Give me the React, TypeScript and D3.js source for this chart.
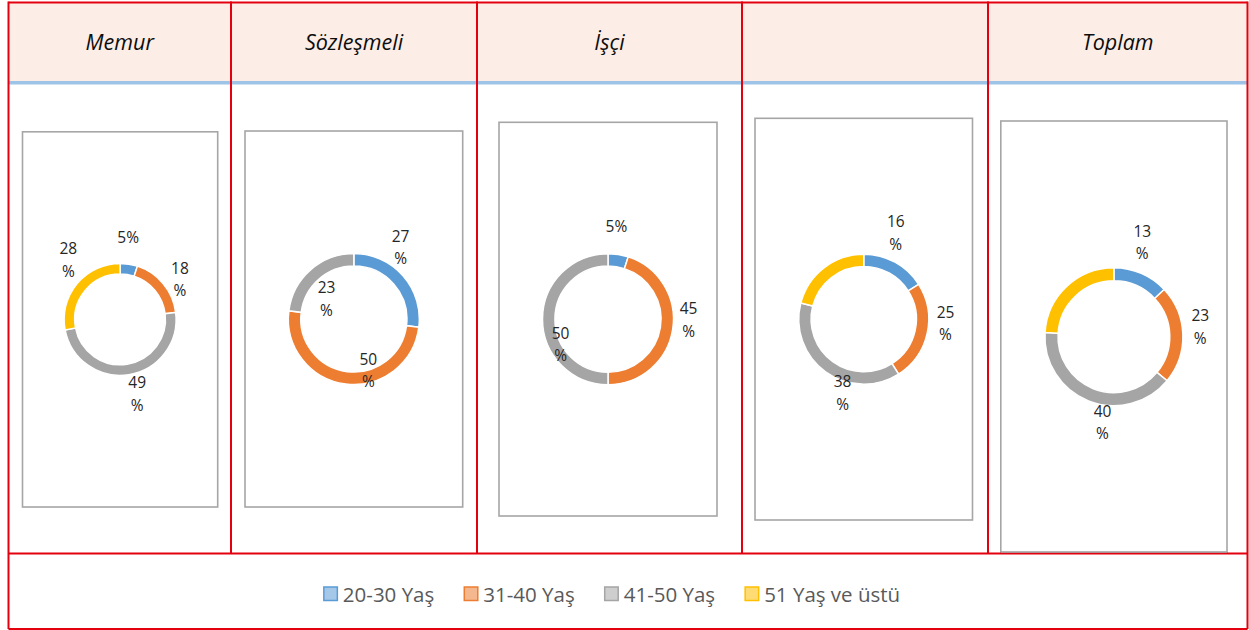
import React, { useEffect, useRef } from "react";
import * as d3 from "d3";

// ---- data ----
const columns = ["Memur", "Sözleşmeli", "İşçi", "", "Toplam"];
const ageGroups = ["20-30 Yaş", "31-40 Yaş", "41-50 Yaş", "51 Yaş ve üstü"];
const memur = [5, 18, 49, 28];
const sozlesmeli = [27, 50, 23, 0];
const isci = [5, 45, 50, 0];
const dorduncu = [16, 25, 38, 21];
const toplam = [13, 23, 40, 24];
const seriesByColumn = [memur, sozlesmeli, isci, dorduncu, toplam];

// ---- layout / style ----
const COLORS = ["#5B9BD5", "#ED7D31", "#A5A5A5", "#FFC000"];
const COL_EDGES = [8.5, 231, 477, 742, 988, 1247.5];
const BOXES = [
  [22.5, 131.8, 217.7, 507],
  [245, 131, 462.7, 507],
  [499, 122.3, 717, 516],
  [755, 118.3, 972.5, 520],
  [1000.8, 121, 1227, 552.5],
];
const RADII = [56, 65.5, 65.5, 65, 69];
// label placement: [angle shift (deg) from slice middle, radius factor], null = hidden
const LABEL_LAYOUT: (number[] | null)[][] = [
  [[-3.4, 1.47], [5.6, 1.29], [-4, 1.36], [9.4, 1.41]],
  [[-15.6, 1.31], [-23, 0.81], [-12, 0.52], null],
  [[-3.8, 1.42], [-8.6, 1.23], [-28, 0.82], null],
  [[-8.5, 1.42], [-9.6, 1.26], [-20, 1.18], null],
  [[-6.7, 1.43], [-4.8, 1.26], [-14, 1.25], null],
];
const FONT = "'Open Sans', 'Noto Sans', sans-serif";

export default function App() {
  const ref = useRef<SVGSVGElement>(null);

  useEffect(() => {
    document.body.style.margin = "0";
    const svg = d3.select(ref.current);
    svg.selectAll("*").remove();

    const headerTop = 2.5;
    const headerBottom = 81;
    const rowBottom = 553.5;
    const bottom = 629;

    // header background
    svg.append("rect")
      .attr("x", COL_EDGES[0]).attr("y", headerTop)
      .attr("width", COL_EDGES[5] - COL_EDGES[0]).attr("height", headerBottom - headerTop)
      .attr("fill", "#FCEEE6");
    // blue separator
    svg.append("line")
      .attr("x1", COL_EDGES[0]).attr("x2", COL_EDGES[5])
      .attr("y1", 82.7).attr("y2", 82.7)
      .attr("stroke", "#9DC3E6").attr("stroke-width", 3.5);

    // header labels
    columns.forEach((c, i) => {
      svg.append("text")
        .attr("x", (COL_EDGES[i] + COL_EDGES[i + 1]) / 2)
        .attr("y", 50)
        .attr("text-anchor", "middle")
        .attr("font-family", FONT)
        .attr("font-style", "italic")
        .attr("font-size", 21.5)
        .attr("fill", "#0d0d0d")
        .text(c);
    });

    const pie = d3.pie<number>().sort(null).value((d) => d);

    seriesByColumn.forEach((vals, ci) => {
      const [x0, y0, x1, y1] = BOXES[ci];
      svg.append("rect")
        .attr("x", x0).attr("y", y0)
        .attr("width", x1 - x0).attr("height", y1 - y0)
        .attr("fill", "white")
        .attr("stroke", "#A6A6A6").attr("stroke-width", 1.6);
      const cx = (x0 + x1) / 2;
      const cy = (y0 + y1) / 2;
      const r = RADII[ci];
      const arc = d3.arc<d3.PieArcDatum<number>>().innerRadius(r * 0.81).outerRadius(r);
      const g = svg.append("g").attr("transform", `translate(${cx},${cy})`);
      const arcs = pie(vals);
      g.selectAll("path")
        .data(arcs.filter((a) => a.value > 0))
        .join("path")
        .attr("d", arc)
        .attr("fill", (d) => COLORS[d.index])
        .attr("stroke", "white")
        .attr("stroke-width", 1.5);

      arcs.forEach((a, si) => {
        const lay = LABEL_LAYOUT[ci][si];
        if (!lay || a.value <= 0) return;
        const ang = (a.startAngle + a.endAngle) / 2 + (lay[0] * Math.PI) / 180;
        const dist = r * lay[1];
        const lx = cx + Math.sin(ang) * dist;
        const ly = cy - Math.cos(ang) * dist;
        const t = svg.append("text")
          .attr("text-anchor", "middle")
          .attr("font-family", FONT)
          .attr("font-size", 15.5)
          .attr("fill", "#262626");
        if (a.value < 10) {
          t.append("tspan").attr("x", lx).attr("y", ly + 5.5).text(`${a.value}%`);
        } else {
          t.append("tspan").attr("x", lx).attr("y", ly - 5.5).text(`${a.value}`);
          t.append("tspan").attr("x", lx).attr("y", ly + 17).text("%");
        }
      });
    });

    // red grid lines
    const red = "#E3000F";
    const rl = (xa: number, ya: number, xb: number, yb: number) =>
      svg.append("line")
        .attr("x1", xa).attr("y1", ya).attr("x2", xb).attr("y2", yb)
        .attr("stroke", red).attr("stroke-width", 2);
    rl(COL_EDGES[0], headerTop, COL_EDGES[5], headerTop);
    rl(COL_EDGES[0], rowBottom, COL_EDGES[5], rowBottom);
    rl(COL_EDGES[0], bottom, COL_EDGES[5], bottom);
    COL_EDGES.forEach((x, i) => {
      const yEnd = i === 0 || i === COL_EDGES.length - 1 ? bottom : rowBottom;
      rl(x, headerTop - 1, x, yEnd);
    });
    // Toplam box bottom drawn over red
    svg.append("line")
      .attr("x1", BOXES[4][0]).attr("x2", BOXES[4][2])
      .attr("y1", BOXES[4][3] - 0.5).attr("y2", BOXES[4][3] - 0.5)
      .attr("stroke", "#A6A6A6").attr("stroke-width", 1.4);

    // legend
    const lg = svg.append("g");
    const items: { g: any; w: number }[] = [];
    ageGroups.forEach((name, i) => {
      const ig = lg.append("g");
      ig.append("rect")
        .attr("x", 0).attr("y", -7).attr("width", 13.5).attr("height", 13.5)
        .attr("fill", COLORS[i]).attr("fill-opacity", 0.55)
        .attr("stroke", COLORS[i]).attr("stroke-width", 1.5);
      const t = ig.append("text")
        .attr("x", 19).attr("y", 7.5)
        .attr("font-family", FONT).attr("font-size", 20.5)
        .attr("fill", "#595959").text(name);
      const tw = (t.node() as SVGTextElement).getComputedTextLength();
      items.push({ g: ig, w: 19 + tw });
    });
    const gap = 30;
    const total = items.reduce((s, it) => s + it.w, 0) + gap * (items.length - 1);
    let x = 612 - total / 2;
    items.forEach((it) => {
      it.g.attr("transform", `translate(${x},${594})`);
      x += it.w + gap;
    });
  }, []);

  return (
    <svg
      ref={ref}
      width={1249}
      height={630}
      style={{ position: "absolute", left: 0, top: 0, background: "white" }}
    />
  );
}
